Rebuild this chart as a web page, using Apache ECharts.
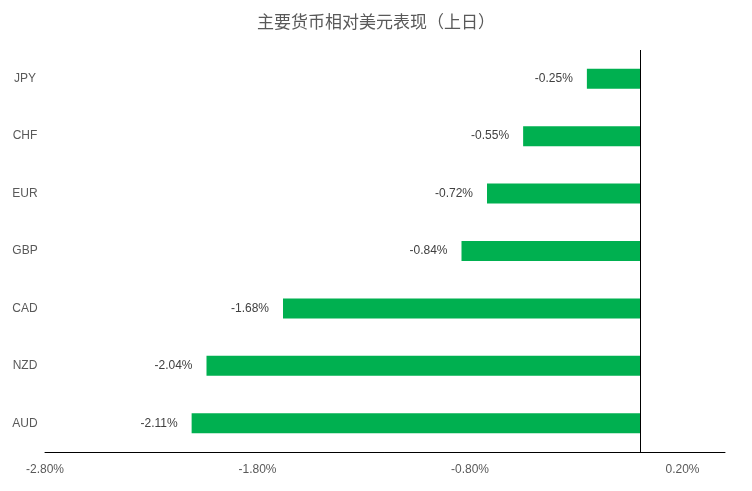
<!DOCTYPE html>
<html lang="zh">
<head>
  <meta charset="UTF-8">
  <title>主要货币相对美元表现</title>
  <style>
    html, body { margin: 0; padding: 0; background: #fff; }
    #main { width: 752px; height: 491px; }
  </style>
</head>
<body>
<div id="main"></div>
<script src="https://cdn.jsdelivr.net/npm/echarts@6/dist/echarts.min.js"></script>
<script>
  var currencies = ['JPY', 'CHF', 'EUR', 'GBP', 'CAD', 'NZD', 'AUD'];
  var changes = [-0.25, -0.55, -0.72, -0.84, -1.68, -2.04, -2.11];

  var myChart = echarts.init(document.getElementById('main'));
  myChart.setOption({
    title: {
      text: '主要货币相对美元表现（上日）',
      left: 'center',
      top: 8,
      textStyle: { fontSize: 17, fontWeight: 'normal', color: '#595959', fontFamily: 'Noto Sans CJK SC' }
    },
    grid: { left: 45, right: 27, top: 50, bottom: 39 },
    xAxis: {
      type: 'value',
      min: -2.8,
      max: 0.4,
      interval: 1,
      splitLine: { show: false },
      axisLine: { show: true, lineStyle: { color: '#000' } },
      axisTick: { show: false },
      axisLabel: {
        showMaxLabel: false,
        color: '#595959',
        fontSize: 12,
        margin: 12,
        formatter: function (v) { return v.toFixed(2) + '%'; }
      }
    },
    yAxis: {
      type: 'category',
      data: currencies,
      inverse: true,
      axisLine: { show: false },
      axisTick: { show: false },
      axisLabel: { color: '#595959', fontSize: 12, margin: 8, align: 'center', padding: [0, 0, 0, 0], formatter: function (v) { return v; } },
      offset: 12
    },
    series: [{
      type: 'bar',
      data: changes,
      barWidth: 20,
      itemStyle: { color: '#00b050' },
      label: {
        show: true,
        position: 'left',
        distance: 14,
        color: '#404040',
        fontSize: 12,
        formatter: function (p) { return p.value.toFixed(2) + '%'; }
      },
      markLine: {
        silent: true,
        symbol: 'none',
        label: { show: false },
        lineStyle: { color: '#000', type: 'solid', width: 1 },
        data: [{ xAxis: 0 }]
      }
    }]
  });
</script>
</body>
</html>
